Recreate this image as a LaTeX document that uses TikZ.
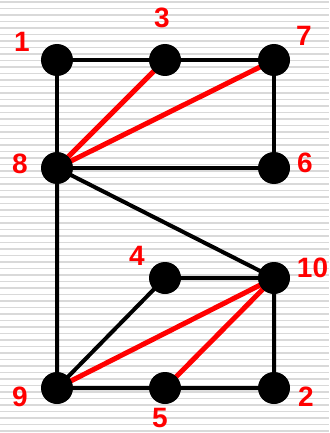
\documentclass[tikz,border=0pt]{standalone}
\usepackage{fontspec}
\setmainfont{Liberation Sans}
\begin{document}
\begin{tikzpicture}[x=1pt,y=-1pt,
  vtx/.style={circle,fill=black,inner sep=0pt,minimum size=32pt},
  lbl/.style={text=red,font=\fontsize{28}{30}\selectfont\bfseries,inner sep=0pt},
  blk/.style={line width=4pt,black},
  redl/.style={line width=5pt,red}]
\fill[white] (0,0) rectangle (329,433);
\useasboundingbox (0,0) rectangle (329,433);
\foreach \i in {0,...,66} {
  \draw[line width=1.4pt,black!15] (0,\i*6.5+2) -- (329,\i*6.5+2);
}
\coordinate (p1) at (57,60);
\coordinate (p3) at (165,60);
\coordinate (p7) at (274,60);
\coordinate (p8) at (57,168);
\coordinate (p6) at (274,168);
\coordinate (p4) at (165,278);
\coordinate (p10) at (274,278);
\coordinate (p9) at (57,388);
\coordinate (p5) at (165,388);
\coordinate (p2) at (274,388);
\draw[blk] (p1) -- (p3) -- (p7) -- (p6) -- (p8) -- (p1);
\draw[blk] (p8) -- (p9) -- (p5) -- (p2) -- (p10) -- (p4) -- (p9);
\draw[blk] (p8) -- (p10);
\draw[redl] (p8) -- (p3);
\draw[redl] (p8) -- (p7);
\draw[redl] (p9) -- (p10);
\draw[redl] (p5) -- (p10);
\foreach \n in {1,3,7,8,6,4,10,9,5,2} { \node[vtx] (v\n) at (p\n) {}; }
\node[lbl] (l1) at (22,42) {1};
\node[lbl] (l3) at (162,18) {3};
\node[lbl] (l7) at (304,36) {7};
\node[lbl] (l8) at (20,164) {8};
\node[lbl] (l6) at (305,163) {6};
\node[lbl] (l4) at (137,256) {4};
\node[lbl] (l10) at (312.5,268) {10};
\node[lbl] (l9) at (20,397) {9};
\node[lbl] (l5) at (160,418) {5};
\node[lbl] (l2) at (306,397) {2};
\end{tikzpicture}
\end{document}
